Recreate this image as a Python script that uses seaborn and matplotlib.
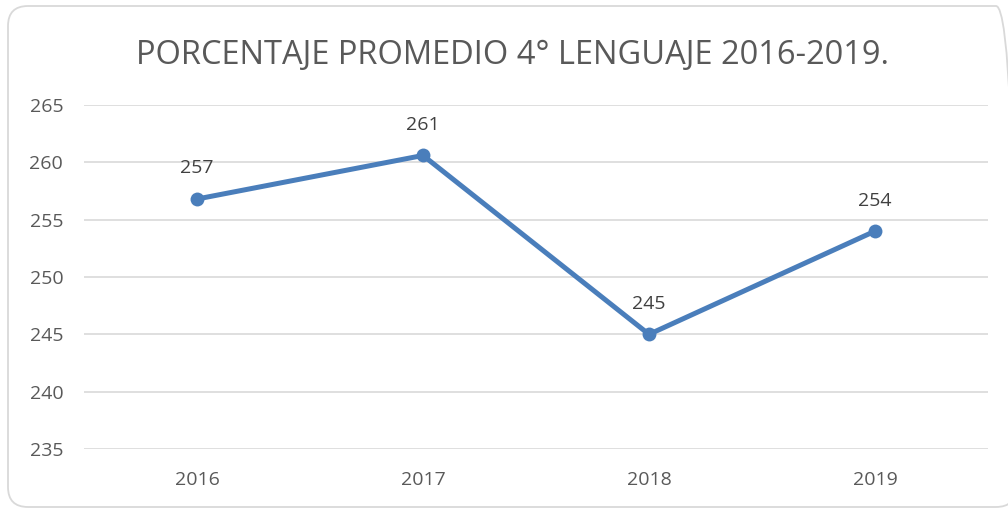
import matplotlib
matplotlib.use('Agg')
import matplotlib.pyplot as plt
from matplotlib.patches import FancyBboxPatch
import seaborn as sns
import pandas as pd

years = ['2016', '2017', '2018', '2019']
promedio = [256.8, 260.6, 245.0, 254.0]
etiquetas = ['257', '261', '245', '254']
y_ticks = [235, 240, 245, 250, 255, 260, 265]

sns.set_style('white')
plt.rcParams['font.family'] = ['Open Sans', 'DejaVu Sans']

df = pd.DataFrame({'year': years, 'valor': promedio})

fig = plt.figure(figsize=(10.08, 5.09), dpi=100)
ax = fig.add_axes([84 / 1008, 1 - 449 / 509, (988 - 84) / 1008, (449 - 105) / 509])

# chart border (rounded like Excel), in pixels
border = FancyBboxPatch((8, 2), 1008, 501,
                        boxstyle='round,pad=0,rounding_size=20',
                        transform=None, facecolor='none',
                        edgecolor='#d9d9d9', linewidth=1.3, zorder=0)
fig.patches.append(border)

for t in y_ticks:
    ax.axhline(t, color='#d9d9d9', linewidth=1.2, zorder=0)

sns.lineplot(data=df, x='year', y='valor', ax=ax, color='#4a7ebb', linewidth=3.6,
             marker='o', markersize=10, markeredgewidth=0, sort=False, zorder=3)

for i, (v, lab) in enumerate(zip(promedio, etiquetas)):
    ax.annotate(lab, (i, v), xytext=(0, 22), textcoords='offset points',
                ha='center', va='center', fontsize=14, color='#404040')

ax.set_xlim(-0.5, 3.5)
ax.set_ylim(235, 265)
ax.set_yticks(y_ticks)
ax.set_xlabel('')
ax.set_ylabel('')
for s in ax.spines.values():
    s.set_visible(False)
ax.tick_params(axis='both', length=0, labelsize=14, labelcolor='#595959')
ax.tick_params(axis='y', pad=15)
ax.tick_params(axis='x', pad=16)

fig.text(512 / 1008, 1 - 55 / 509, 'PORCENTAJE PROMEDIO 4° LENGUAJE 2016-2019.',
         ha='center', va='center', fontsize=23.5, color='#595959')

fig.savefig('out.png', dpi=100)
